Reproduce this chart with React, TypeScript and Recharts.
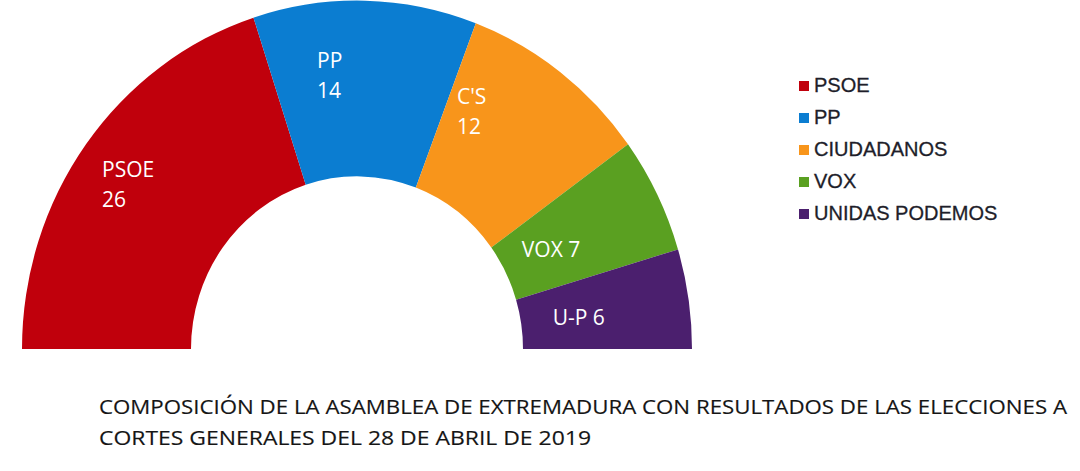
import React from 'react';
import { PieChart, Pie, Cell, Legend } from 'recharts';

const parties = ['PSOE', 'PP', 'CIUDADANOS', 'VOX', 'UNIDAS PODEMOS'];
const shortNames = ['PSOE', 'PP', "C'S", 'VOX', 'U-P'];
const seats = [26, 14, 12, 7, 6];
const colors = ['#C0000C', '#0B7DD1', '#F8951B', '#5AA021', '#4B1F6E'];
const titleLines = [
  'COMPOSICIÓN DE LA ASAMBLEA DE EXTREMADURA CON RESULTADOS DE LAS ELECCIONES A',
  'CORTES GENERALES DEL 28 DE ABRIL DE 2019',
];

const data = parties.map((name, i) => ({ name, short: shortNames[i], value: seats[i] }));

// the hemicycle in the original is a little taller than it is wide
const SQUASH = 1.04;
const RAD = Math.PI / 180;

// start of each slice label: distance from centre + nudge on the mid angle
const labelAnchors = [
  { r: 304, da: 3 },
  { r: 273, da: 9.8 },
  { r: 256, da: 14.4 },
  { r: 187, da: 1.9 },
  { r: 197, da: -1.6 },
];

const EllipseSector = (props: any) => {
  const { cx, cy, innerRadius, outerRadius, startAngle, endAngle, fill } = props;
  const pt = (r: number, a: number) =>
    `${cx + r * Math.cos(-a * RAD)},${cy + SQUASH * r * Math.sin(-a * RAD)}`;
  const large = Math.abs(endAngle - startAngle) > 180 ? 1 : 0;
  const sweep = startAngle > endAngle ? 1 : 0;
  const R = outerRadius;
  const r = innerRadius;
  const d =
    `M${pt(R, startAngle)} A${R},${R * SQUASH} 0 ${large} ${sweep} ${pt(R, endAngle)} ` +
    `L${pt(r, endAngle)} A${r},${r * SQUASH} 0 ${large} ${1 - sweep} ${pt(r, startAngle)} Z`;
  return <path d={d} fill={fill} stroke="none" />;
};

const renderLabel = (props: any) => {
  const { cx, cy, midAngle, index, payload } = props;
  const i = typeof index === 'number' ? index : parties.indexOf(payload?.name);
  const { r, da } = labelAnchors[i];
  const a = (midAngle + da) * RAD;
  const x = cx + r * Math.cos(a);
  const y = cy - SQUASH * r * Math.sin(a);
  const twoLines = i < 3;
  return (
    <text
      key={`lbl-${i}`}
      x={x}
      y={y}
      fill="#ffffff"
      fontSize={21}
      fontFamily="'Open Sans', sans-serif"
      textAnchor="start"
    >
      {twoLines ? (
        <>
          <tspan x={x}>{shortNames[i]}</tspan>
          <tspan x={x} dy={30}>{seats[i]}</tspan>
        </>
      ) : (
        `${shortNames[i]} ${seats[i]}`
      )}
    </text>
  );
};

const renderLegend = (props: any) => {
  // keep the seat order, not the alphabetical one
  const items = [...(props.payload || [])].sort(
    (a: any, b: any) => parties.indexOf(a.value) - parties.indexOf(b.value)
  );
  return (
    <div
      style={{
        fontFamily: "'Liberation Sans', Arial, sans-serif",
        fontSize: 20,
        color: '#1e1e2a',
        WebkitTextStroke: '0.3px #1e1e2a',
      }}
    >
      {items.map((entry: any, i: number) => (
        <div key={i} style={{ height: 32, lineHeight: '32px', whiteSpace: 'nowrap' }}>
          <span
            style={{
              display: 'inline-block',
              width: 10,
              height: 10,
              marginRight: 5,
              marginBottom: 1,
              backgroundColor: entry.color,
            }}
          />
          {entry.value}
        </div>
      ))}
    </div>
  );
};

export default function App() {
  return (
    <div style={{ position: 'absolute', left: 0, top: 0, width: 1080, height: 471, background: '#fff' }}>
      <PieChart width={1080} height={471} margin={{ top: 0, right: 0, bottom: 0, left: 0 }}>
        <Pie
          data={data}
          dataKey="value"
          nameKey="name"
          cx={357}
          cy={349}
          startAngle={180}
          endAngle={0}
          innerRadius={166}
          outerRadius={335}
          stroke="none"
          shape={EllipseSector}
          label={renderLabel}
          labelLine={false}
          isAnimationActive={false}
        >
          {data.map((d, i) => (
            <Cell key={d.name} fill={colors[i]} />
          ))}
        </Pie>
        <Legend
          layout="vertical"
          content={renderLegend}
          wrapperStyle={{ position: 'absolute', left: 799, top: 69, width: 275 }}
        />
      </PieChart>
      <svg
        width={1080}
        height={471}
        style={{ position: 'absolute', left: 0, top: 0, pointerEvents: 'none' }}
      >
        <text x={99} y={414} fontSize={20} fill="#151515" stroke="#151515" strokeWidth={0.15}
          fontFamily="'Open Sans', sans-serif" textLength={968} lengthAdjust="spacingAndGlyphs">
          {titleLines[0]}
        </text>
        <text x={99} y={445} fontSize={20} fill="#151515" stroke="#151515" strokeWidth={0.15}
          fontFamily="'Open Sans', sans-serif" textLength={492} lengthAdjust="spacingAndGlyphs">
          {titleLines[1]}
        </text>
      </svg>
    </div>
  );
}
